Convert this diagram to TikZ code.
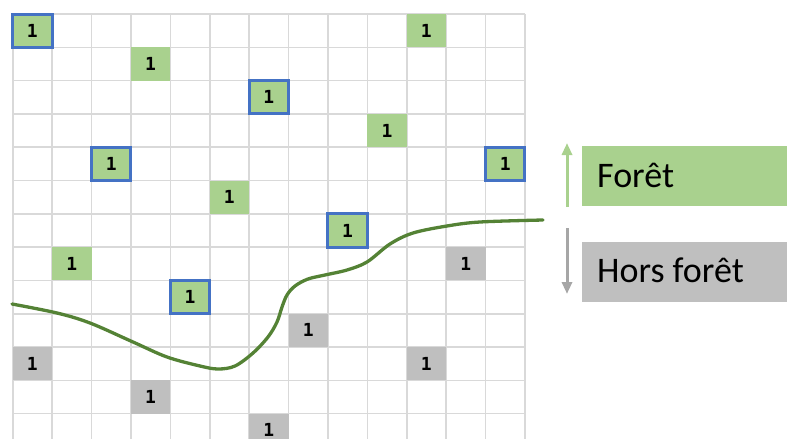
\documentclass[tikz,border=0pt]{standalone}
\usepackage{fontspec}
\newfontfamily\labfont{Carlito}
\newfontfamily\numfont{DejaVu Sans Mono}
\usetikzlibrary{arrows.meta}
\definecolor{lgreen}{HTML}{A9D18E}
\definecolor{lgray}{HTML}{BFBFBF}
\definecolor{agray}{HTML}{A6A6A6}
\definecolor{bblue}{HTML}{4472C4}
\definecolor{dgreen}{HTML}{548235}
\definecolor{gridc}{HTML}{D9D9D9}
\tikzset{
  cellbase/.style={minimum width=39.4pt, minimum height=33.3pt, inner sep=0pt, font=\numfont\bfseries\fontsize{18}{18}\selectfont},
  gcell/.style={cellbase, fill=lgreen},
  bcell/.style={cellbase, fill=lgreen, draw=bblue, line width=3pt},
  ycell/.style={cellbase, fill=lgray},
  labbox/.style={minimum width=205pt, minimum height=60pt, inner sep=0pt, anchor=north west},
  labtext/.style={anchor=base west, inner sep=0pt, font=\labfont\fontsize{36}{36}\selectfont},
  legarrow/.style={line width=3pt, -{Triangle[length=12pt,width=10pt]}},
  gridline/.style={draw=gridc, line width=1.6pt}
}
\newcommand{\cx}[1]{12.7+39.4*#1+19.7}
\newcommand{\cy}[1]{14+33.3*#1+16.65}
\begin{document}
\begin{tikzpicture}[x=1pt,y=-1pt]
\useasboundingbox (0,0) rectangle (787,439);
\begin{scope}
\clip (0,0) rectangle (787,439);
% grid
\foreach \i in {0,...,13} {\draw[gridline] ({12.7+39.4*\i},14) -- ({12.7+39.4*\i},445);}
\foreach \j in {0,...,12} {\draw[gridline] (12.7,{14+33.3*\j}) -- (524.9,{14+33.3*\j});}
% green cells
\node[gcell] (g3a) at ({\cx{3}},{\cy{1}}) {1};
\node[gcell] (g10a) at ({\cx{10}},{\cy{0}}) {1};
\node[gcell] (g9a) at ({\cx{9}},{\cy{3}}) {1};
\node[gcell] (g5a) at ({\cx{5}},{\cy{5}}) {1};
\node[gcell] (g1a) at ({\cx{1}},{\cy{7}}) {1};
% gray cells
\node[ycell] (y11) at ({\cx{11}},{\cy{7}}) {1};
\node[ycell] (y7) at ({\cx{7}},{\cy{9}}) {1};
\node[ycell] (y0) at ({\cx{0}},{\cy{10}}) {1};
\node[ycell] (y10) at ({\cx{10}},{\cy{10}}) {1};
\node[ycell] (y3) at ({\cx{3}},{\cy{11}}) {1};
\node[ycell] (y6) at ({\cx{6}},{\cy{12}}) {1};
% blue bordered cells
\node[bcell] (b0) at ({\cx{0}},{\cy{0}}) {1};
\node[bcell] (b6) at ({\cx{6}},{\cy{2}}) {1};
\node[bcell] (b2) at ({\cx{2}},{\cy{4}}) {1};
\node[bcell] (b12) at ({\cx{12}},{\cy{4}}) {1};
\node[bcell] (b8) at ({\cx{8}},{\cy{6}}) {1};
\node[bcell] (b4) at ({\cx{4}},{\cy{8}}) {1};
\end{scope}
% boundary curve
\draw[dgreen, line width=3.3pt, line cap=round] plot[smooth, tension=0.55] coordinates {
 (12,304) (57,313) (90,323) (133,342) (167,357) (200,366) (218,369) (235,366)
 (253,353) (268,337) (277,322) (282,307) (287,295) (295,286) (308,279) (325,275)
 (347,270) (367,262) (390,244) (413,233) (447,226) (480,222) (543,220)};
% legend
\node[labbox, fill=lgreen] (fbox) at (582,146) {};
\node[labbox, fill=lgray] (hbox) at (582,242) {};
\node[labtext] (ftext) at (597,187) {Forêt};
\node[labtext] (htext) at (597,282) {Hors forêt};
\coordinate (fa1) at (567,207);
\coordinate (fa2) at (567,143);
\coordinate (ha1) at (567,228);
\coordinate (ha2) at (567,294);
\draw[legarrow, lgreen] (fa1) -- (fa2);
\draw[legarrow, agray] (ha1) -- (ha2);
\end{tikzpicture}
\end{document}
